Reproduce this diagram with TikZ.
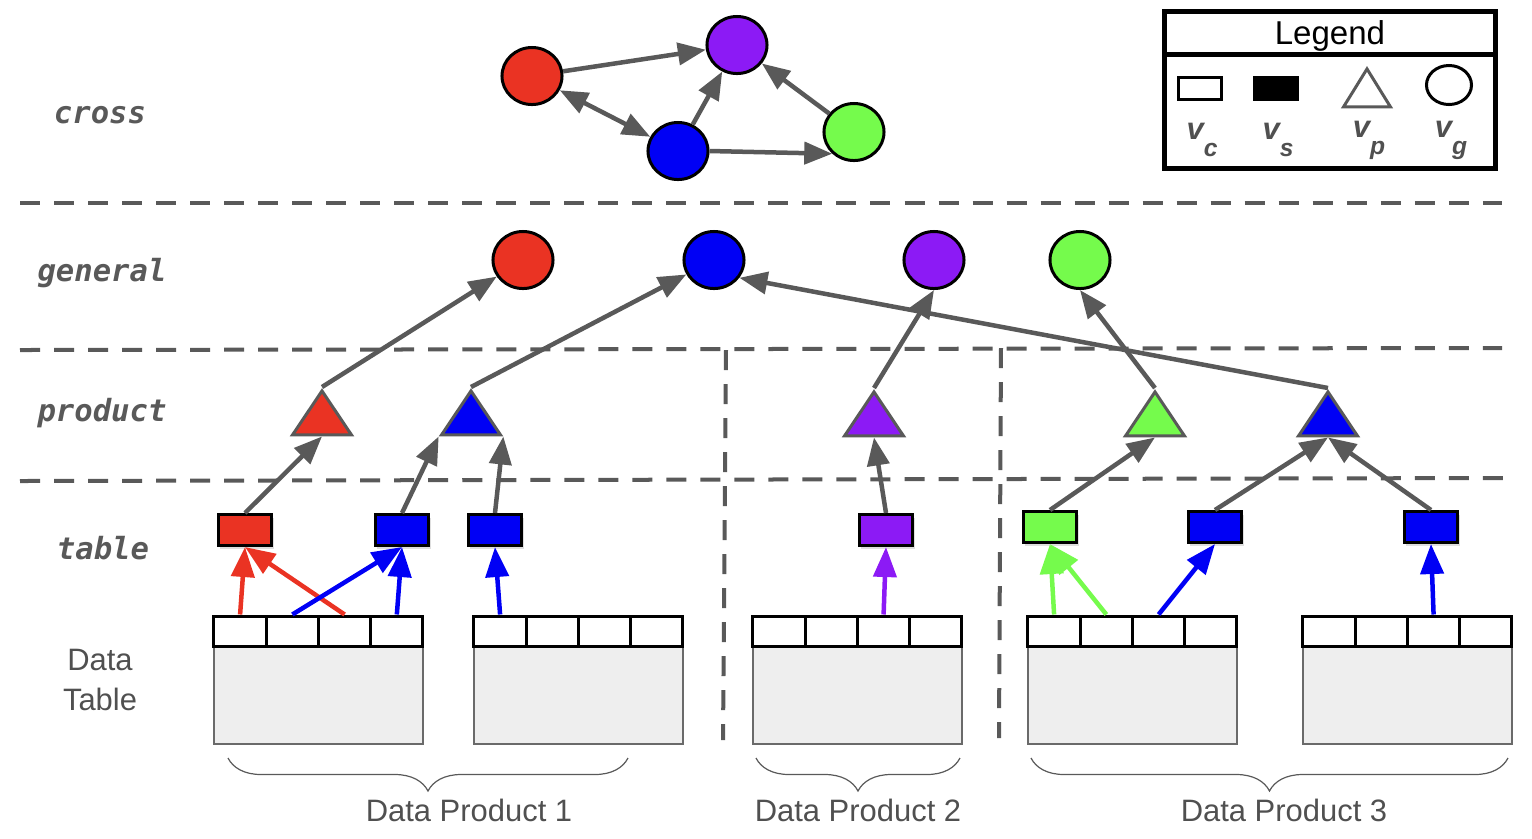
\documentclass[tikz,border=0pt]{standalone}
\usepackage{fontspec}
\setmainfont{Liberation Sans}
\newfontfamily\lvlfont{DejaVu Sans Mono}
\usepackage{tikz}
\usetikzlibrary{
  arrows.meta,
  shapes.geometric,
  positioning,
  calc,
  shadows,
  decorations.pathreplacing
}
\definecolor{dpRed}{HTML}{EA3323}
\definecolor{dpBlue}{HTML}{0000F5}
\definecolor{dpPurple}{HTML}{8C1AF5}
\definecolor{dpGreen}{HTML}{75FB4C}
\definecolor{dpGray}{HTML}{595959}
\definecolor{dpText}{HTML}{505050}
\definecolor{dpBody}{HTML}{EEEEEE}
\newcommand{\vsub}[1]{v\raisebox{-0.55em}{\fontsize{7}{8}\selectfont #1}}
\tikzset{
  gnode/.style={
    draw=black, ellipse, line width=0.03cm, inner sep=0pt,
    minimum width=0.6cm, minimum height=0.57cm
  },
  pnode/.style={
    draw=dpGray, isosceles triangle, isosceles triangle stretches,
    shape border rotate=90, line width=0.03cm, inner sep=0pt,
    minimum width=0.59cm, minimum height=0.44cm, anchor=apex
  },
  tnode/.style={
    draw=black, line width=0.03cm, inner sep=0pt,
    minimum width=0.53cm, minimum height=0.31cm,
    drop shadow={shadow xshift=0.02cm, shadow yshift=-0.03cm, opacity=0.25}
  },
  hcell/.style={draw=black, fill=white, line width=0.03cm, inner sep=0pt,
    minimum width=0.5225cm, minimum height=0.30cm},
  tbody/.style={draw=dpGray!90, fill=dpBody, line width=0.012cm, inner sep=0pt,
    minimum width=2.09cm, minimum height=0.98cm},
  layer/.style={font=\lvlfont\bfseries\itshape\fontsize{8.7}{10}\selectfont, text=dpGray},
  caption/.style={font=\fontsize{8.8}{11.1}\selectfont, text=dpText, align=center},
  vlabel/.style={font=\bfseries\itshape\fontsize{8.8}{10}\selectfont, text=dpText},
  sep/.style={dpGray, line width=0.04cm, dash pattern=on 0.2cm off 0.14cm},
  link/.style={->, dpGray, line width=0.045cm},
  colarrow/.style={-{Triangle[length=0.3cm, width=0.23cm]}, line width=0.045cm, draw=#1},
  brace/.style={decorate, decoration={brace, mirror, amplitude=0.33cm}, dpGray, line width=0.012cm}
}

\begin{document}
\begin{tikzpicture}[x=0.01cm, y=-0.01cm, >={Triangle[length=0.28cm, width=0.22cm]}]
  \useasboundingbox (0,0) rectangle (1532,838);
  % layer borders
  \draw[sep] (20,203) -- (1502,203);
  \draw[sep] (20,350) -- (1502,348);
  \draw[sep] (20,481) -- (1510,478);
  \draw[sep] (726,350) -- (723,740);
  \draw[sep] (1001,348) -- (999,738);

  \node[layer] (lcross) at (100,115) {cross};
  \node[layer] (lgen) at (102,273) {general};
  \node[layer] (lprod) at (102,413) {product};
  \node[layer] (ltab) at (103,548) {table};
  \node[caption] (ldata) at (100,680) {Data\\Table};

  % cross
  \node[gnode, fill=dpRed] (xred) at (532,76) {};
  \node[gnode, fill=dpPurple] (xpur) at (737,45) {};
  \node[gnode, fill=dpBlue] (xblue) at (678,151) {};
  \node[gnode, fill=dpGreen] (xgrn) at (854,132) {};
  \draw[link] (xred) -- (xpur);
  \draw[link, <->] (xred) -- (xblue);
  \draw[link] (xblue) -- (xpur);
  \draw[link] (xblue.east) -- (xgrn.-135);
  \draw[link] (xgrn) -- (xpur);

  % general
  \node[gnode, fill=dpRed] (gred) at (523,260) {};
  \node[gnode, fill=dpBlue] (gblue) at (714,260) {};
  \node[gnode, fill=dpPurple] (gpur) at (934,260) {};
  \node[gnode, fill=dpGreen] (ggrn) at (1080,260) {};

  % product
  \node[pnode, fill=dpRed] (pred) at (322,387) {};
  \node[pnode, fill=dpBlue] (pblue1) at (471,387) {};
  \node[pnode, fill=dpPurple] (ppur) at (874,388) {};
  \node[pnode, fill=dpGreen] (pgrn) at (1155,388) {};
  \node[pnode, fill=dpBlue] (pblue2) at (1328,388) {};

  % table
  \node[tnode, fill=dpRed] (tred) at (245,530) {};
  \node[tnode, fill=dpBlue] (tblue1) at (402,530) {};
  \node[tnode, fill=dpBlue] (tblue2) at (495,530) {};
  \node[tnode, fill=dpPurple] (tpur) at (886,530) {};
  \node[tnode, fill=dpGreen] (tgrn) at (1050,527) {};
  \node[tnode, fill=dpBlue] (tblue3) at (1215,527) {};
  \node[tnode, fill=dpBlue] (tblue4) at (1431,527) {};

  % data tables
  \foreach \tx [count=\ti] in {214,474,753,1028,1303} {
    \node[tbody] (t\ti) at (\tx+104.5,695) {};
    \foreach \c in {1,...,4}
      \node[hcell] (t\ti-c\c) at ({\tx+26.1+(\c-1)*52.25},631) {};
  }

  \draw[colarrow=dpRed] (t1-c1.north) -- (tred.south);
  \draw[colarrow=dpRed] (t1-c3.north) -- (tred.south);
  \draw[colarrow=dpBlue] (t1-c2.north) -- (tblue1.south);
  \draw[colarrow=dpBlue] (t1-c4.north) -- (tblue1.south);
  \draw[colarrow=dpBlue] (t2-c1.north) -- (tblue2.south);
  \draw[colarrow=dpPurple] (t3-c3.north) -- (tpur.south);
  \draw[colarrow=dpGreen] (t4-c1.north) -- (tgrn.south);
  \draw[colarrow=dpGreen] (t4-c2.north) -- (tgrn.south);
  \draw[colarrow=dpBlue] (t4-c3.north) -- (tblue3.south);
  \draw[colarrow=dpBlue] (t5-c3.north) -- (tblue4.south);

  \draw[link] (tred.north) -- (pred.lower side);
  \draw[link] (tblue1.north) -- (pblue1.left corner);
  \draw[link] (tblue2.north) -- (pblue1.right corner);
  \draw[link] (tpur.north) -- (ppur.lower side);
  \draw[link] (tgrn.north) -- (pgrn.lower side);
  \draw[link] (tblue3.north) -- (pblue2.lower side);
  \draw[link] (tblue4.north) -- (pblue2.lower side);

  \draw[link] (pred.apex) -- (gred);
  \draw[link] (pblue1.apex) -- (gblue);
  \draw[link] (ppur.apex) -- (gpur.south);
  \draw[link] (pgrn.apex) -- (ggrn.south);
  \draw[link] (pblue2.apex) -- (gblue.-35);

  % data products
  \draw[brace] (228,758) -- (628,758);
  \draw[brace] (756,758) -- (960,758);
  \draw[brace] (1031,758) -- (1508,758);
  \node[caption] (dp1) at (469,810) {Data Product 1};
  \node[caption] (dp2) at (858,810) {Data Product 2};
  \node[caption] (dp3) at (1284,810) {Data Product 3};

  % legend
  \node[draw=black, line width=0.05cm, inner sep=0pt,
    minimum width=3.3cm, minimum height=1.56cm] (legend) at (1330,90) {};
  \node[font=\fontsize{9.4}{11}\selectfont] (legtitle) at (1330,36) {Legend};
  \draw[line width=0.05cm] ($(legend.north west)+(0,45)$) -- ($(legend.north east)+(0,45)$);
  \node[draw=black, fill=white, line width=0.03cm, inner sep=0pt,
    minimum width=0.43cm, minimum height=0.22cm] (legc) at (1200,88) {};
  \node[draw=black, fill=black, line width=0.03cm, inner sep=0pt,
    minimum width=0.43cm, minimum height=0.22cm] (legs) at (1276,88) {};
  \node[pnode, fill=white, minimum width=0.47cm, minimum height=0.38cm] (legp) at (1367,65) {};
  \node[gnode, fill=white, minimum width=0.45cm, minimum height=0.39cm] (legg) at (1449,85) {};
  \node[vlabel] (vc) at (1202,140) {\vsub{c}};
  \node[vlabel] (vs) at (1278,140) {\vsub{s}};
  \node[vlabel] (vp) at (1369,140) {\vsub{p}};
  \node[vlabel] (vg) at (1451,140) {\vsub{g}};
\end{tikzpicture}
\end{document}
